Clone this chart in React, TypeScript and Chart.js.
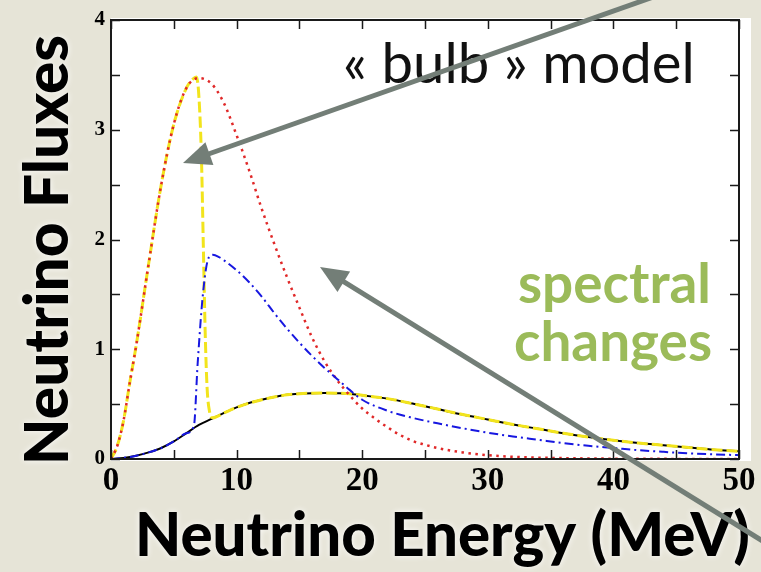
import React, { useEffect, useRef } from 'react';
import { Chart, registerables } from 'chart.js';
Chart.register(...registerables);

const W = 761;
const H = 572;

// x: neutrino energy (MeV), y: flux
const blackEnergy = [0, 1, 2, 3, 4, 5, 6, 7, 8, 9, 10, 11, 12, 13, 14, 15, 16, 17, 18, 19, 20, 22, 24, 26, 28, 30, 32, 34, 36, 38, 40, 42, 44, 46, 48, 50];
const blackFlux = [0, 0.01, 0.03, 0.06, 0.1, 0.16, 0.235, 0.31, 0.365, 0.42, 0.47, 0.51, 0.54, 0.565, 0.585, 0.595, 0.6, 0.602, 0.6, 0.595, 0.58, 0.55, 0.505, 0.455, 0.405, 0.36, 0.315, 0.275, 0.235, 0.2, 0.17, 0.145, 0.125, 0.105, 0.085, 0.07];

const yellowEnergy = [0, 0.5, 1, 1.5, 2, 3, 4, 5, 6, 6.5, 6.8, 7.0, 7.2, 7.35, 7.5, 7.65, 7.85, 8.1, 9, 10, 11, 12, 13, 14, 15, 16, 17, 18, 19, 20, 22, 24, 26, 28, 30, 32, 34, 36, 38, 40, 42, 44, 46, 48, 50];
const yellowFlux = [0, 0.12, 0.35, 0.7, 1.03, 1.78, 2.5, 3.05, 3.38, 3.46, 3.48, 3.3, 2.75, 1.95, 1.15, 0.65, 0.43, 0.375, 0.42, 0.47, 0.51, 0.54, 0.565, 0.585, 0.595, 0.6, 0.602, 0.6, 0.595, 0.58, 0.55, 0.505, 0.455, 0.405, 0.36, 0.315, 0.275, 0.235, 0.2, 0.17, 0.145, 0.125, 0.105, 0.085, 0.07];

const redEnergy = [0, 0.5, 1, 1.5, 2, 3, 4, 5, 6, 7, 8, 9, 10, 11, 12, 13, 14, 15, 16, 17, 18, 19, 20, 21, 22, 23, 24, 25, 26, 28, 30, 32, 35, 40, 45, 50];
const redFlux = [0, 0.12, 0.35, 0.7, 1.03, 1.78, 2.5, 3.05, 3.38, 3.47, 3.42, 3.24, 2.95, 2.63, 2.28, 1.96, 1.66, 1.38, 1.11, 0.89, 0.72, 0.58, 0.46, 0.37, 0.29, 0.22, 0.165, 0.13, 0.1, 0.06, 0.035, 0.02, 0.01, 0.003, 0.001, 0];

const blueEnergy = [0, 1, 2, 3, 4, 5, 6, 6.6, 6.9, 7.3, 7.7, 8.1, 8.6, 9, 10, 11, 12, 13, 14, 15, 16, 17, 18, 19, 20, 22, 24, 26, 28, 30, 32, 34, 36, 38, 40, 42, 44, 46, 48, 50];
const blueFlux = [0, 0.01, 0.03, 0.06, 0.1, 0.16, 0.235, 0.3, 0.87, 1.48, 1.81, 1.86, 1.84, 1.81, 1.72, 1.61, 1.48, 1.33, 1.19, 1.06, 0.94, 0.83, 0.73, 0.63, 0.54, 0.44, 0.375, 0.325, 0.28, 0.24, 0.205, 0.175, 0.145, 0.12, 0.1, 0.08, 0.065, 0.052, 0.042, 0.035];

const xTitle = 'Neutrino Energy (MeV)';
const yTitle = 'Neutrino Fluxes';
const modelLabel = '« bulb » model';
const changesLines = ['spectral', 'changes'];

const pts = (xs: number[], ys: number[]) => xs.map((x, i) => ({ x, y: ys[i] }));

function fitSize(ctx: CanvasRenderingContext2D, text: string, font: (s: number) => string, target: number) {
  ctx.font = font(100);
  const w = ctx.measureText(text).width;
  return (100 * target) / w;
}

function arrow(ctx: CanvasRenderingContext2D, x0: number, y0: number, x1: number, y1: number) {
  const ang = Math.atan2(y1 - y0, x1 - x0);
  const len = 28;
  const half = 12;
  const bx = x1 - len * Math.cos(ang);
  const by = y1 - len * Math.sin(ang);
  ctx.save();
  ctx.strokeStyle = '#737e77';
  ctx.fillStyle = '#737e77';
  ctx.lineWidth = 5;
  ctx.beginPath();
  ctx.moveTo(x0, y0);
  ctx.lineTo(bx + 4 * Math.cos(ang), by + 4 * Math.sin(ang));
  ctx.stroke();
  ctx.beginPath();
  ctx.moveTo(x1, y1);
  ctx.lineTo(bx + half * Math.sin(ang), by - half * Math.cos(ang));
  ctx.lineTo(bx - half * Math.sin(ang), by + half * Math.cos(ang));
  ctx.closePath();
  ctx.fill();
  ctx.restore();
}

export default function App() {
  const ref = useRef<HTMLCanvasElement>(null);
  useEffect(() => {
    const canvas = ref.current!;
    const deco = {
      id: 'deco',
      beforeDatasetsDraw(chart: any) {
        const { ctx, chartArea: a } = chart;
        ctx.save();
        ctx.fillStyle = '#ffffff';
        ctx.fillRect(a.left, a.top - 2, a.right - a.left + 12, a.bottom - a.top + 4);
        ctx.restore();
      },
      afterDatasetsDraw(chart: any) {
        const { ctx, chartArea: a, scales } = chart;
        ctx.save();
        ctx.strokeStyle = '#1a1a1a';
        ctx.lineWidth = 2;
        ctx.strokeRect(a.left, a.top, a.right - a.left, a.bottom - a.top);
        ctx.lineWidth = 1.5;
        ctx.beginPath();
        const tl = 9;
        for (const t of scales.x.ticks) {
          const px = Math.round(scales.x.getPixelForValue(t.value)) + 0.5;
          ctx.moveTo(px, a.bottom); ctx.lineTo(px, a.bottom - tl);
          ctx.moveTo(px, a.top); ctx.lineTo(px, a.top + tl);
        }
        for (const t of scales.y.ticks) {
          const py = Math.round(scales.y.getPixelForValue(t.value)) + 0.5;
          ctx.moveTo(a.left, py); ctx.lineTo(a.left + tl, py);
          ctx.moveTo(a.right, py); ctx.lineTo(a.right - tl, py);
        }
        ctx.stroke();
        ctx.restore();
      },
      afterDraw(chart: any) {
        const { ctx } = chart;
        ctx.save();
        // model label
        const regFont = (s: number) => `400 ${s}px Lato, 'Open Sans', sans-serif`;
        const s1 = fitSize(ctx, modelLabel, regFont, 352);
        ctx.font = regFont(s1);
        ctx.fillStyle = '#111';
        ctx.textAlign = 'left';
        ctx.textBaseline = 'alphabetic';
        ctx.fillText(modelLabel, 343, 83);
        // spectral changes
        const grFont = (s: number) => `700 ${s}px Lato, 'Open Sans', sans-serif`;
        const s2 = fitSize(ctx, changesLines[0], grFont, 193);
        ctx.font = grFont(s2);
        ctx.fillStyle = '#9bbb59';
        ctx.textAlign = 'right';
        ctx.fillText(changesLines[0], 711, 303);
        ctx.fillText(changesLines[1], 712, 361);
        // axis titles
        ctx.shadowColor = 'rgba(255,255,255,0.95)';
        ctx.shadowBlur = 6;
        const bFont = (s: number) => `900 ${s}px Lato, 'Open Sans', sans-serif`;
        const s3 = fitSize(ctx, xTitle, bFont, 615);
        ctx.font = bFont(s3);
        ctx.fillStyle = '#000';
        ctx.textAlign = 'left';
        ctx.fillText(xTitle, 135, 556);
        const s4 = fitSize(ctx, yTitle, bFont, 430);
        ctx.save();
        ctx.translate(68, 250);
        ctx.rotate(-Math.PI / 2);
        ctx.font = bFont(s4);
        ctx.textAlign = 'center';
        ctx.fillText(yTitle, 0, 0);
        ctx.restore();
        ctx.shadowBlur = 0;
        ctx.shadowColor = 'transparent';
        // arrows
        arrow(ctx, 690, -16, 183, 163);
        arrow(ctx, 790, 558, 320, 267);
        ctx.restore();
      },
    };

    const chart = new Chart(canvas, {
      type: 'scatter',
      data: {
        datasets: [
          {
            label: 'blue',
            data: pts(blueEnergy, blueFlux),
            showLine: true,
            borderColor: '#1717e0',
            borderWidth: 2,
            borderDash: [9, 4, 2, 4],
            pointRadius: 0,
            cubicInterpolationMode: 'monotone',
            order: 1,
          },
          {
            label: 'red',
            data: pts(redEnergy, redFlux),
            showLine: true,
            borderColor: '#e02828',
            borderWidth: 2.5,
            borderDash: [2.5, 4.5],
            pointRadius: 0,
            cubicInterpolationMode: 'monotone',
            order: 2,
          },
          {
            label: 'yellow',
            data: pts(yellowEnergy, yellowFlux),
            showLine: true,
            borderColor: '#f2e41c',
            borderWidth: 3,
            borderDash: [11, 4],
            pointRadius: 0,
            cubicInterpolationMode: 'monotone',
            order: 3,
          },
          {
            label: 'black',
            data: pts(blackEnergy, blackFlux),
            showLine: true,
            borderColor: '#000',
            borderWidth: 2,
            pointRadius: 0,
            cubicInterpolationMode: 'monotone',
            order: 4,
          },
        ],
      },
      options: {
        responsive: false,
        animation: false,
        layout: { padding: { top: 20, right: 22, left: 0, bottom: 0 } },
        plugins: { legend: { display: false }, tooltip: { enabled: false } },
        scales: {
          x: {
            type: 'linear',
            min: 0,
            max: 50,
            border: { display: false },
            grid: { display: false, drawTicks: false },
            afterFit: (s: any) => { s.height = 113; },
            ticks: {
              stepSize: 5,
              autoSkip: false,
              maxRotation: 0,
              padding: 3,
              color: '#000',
              font: { family: "'Liberation Serif', serif", weight: 'bold', size: 33 },
              callback: (v: any) => (Number(v) % 10 === 0 ? String(v) : ''),
            },
          },
          y: {
            type: 'linear',
            min: 0,
            max: 4,
            border: { display: false },
            grid: { display: false, drawTicks: false },
            afterFit: (s: any) => { s.width = 111; },
            ticks: {
              stepSize: 0.5,
              padding: 6,
              color: '#000',
              font: { family: "'Liberation Serif', serif", weight: 'bold', size: 21 },
              callback: (v: any) => (Number(v) % 1 === 0 ? String(v) : ''),
            },
          },
        },
      },
      plugins: [deco],
    } as any);
    return () => chart.destroy();
  }, []);
  return (
    <div style={{ position: 'fixed', left: 0, top: 0, width: W, height: H, background: '#e6e4d7', overflow: 'hidden' }}>
      <canvas ref={ref} width={W} height={H} style={{ width: W, height: H, display: 'block' }} />
    </div>
  );
}
